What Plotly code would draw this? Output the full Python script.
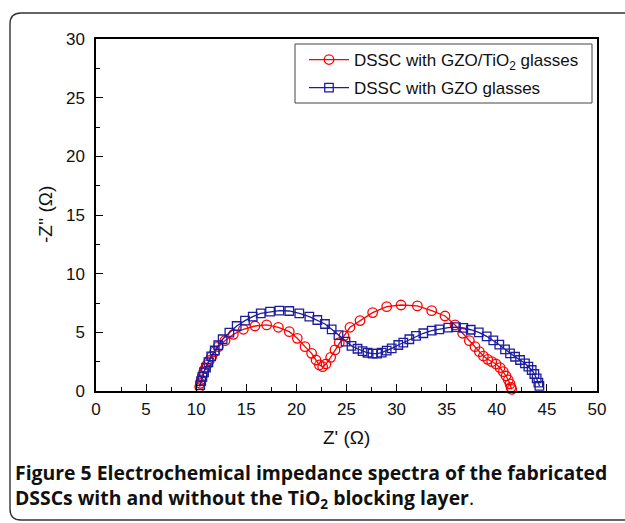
import plotly.graph_objects as go

# ---- data ----
red_name = "DSSC with GZO/TiO<sub>2</sub> glasses"
red_x = [10.35, 10.42, 10.5, 10.6, 10.72, 10.88, 11.08, 11.3, 11.55, 11.85, 12.21, 12.87, 13.71,
         14.71, 15.87, 17.03, 18.20, 19.29, 20.09, 20.86, 21.52, 21.96, 22.29, 22.62, 22.95, 23.42,
         23.85, 24.28, 24.75, 25.35, 26.35, 27.61, 29.01, 30.44, 32.07, 33.50, 34.83, 35.83, 36.59,
         37.26, 37.82, 38.26, 38.66, 39.09, 39.49, 39.92, 40.32, 40.65, 40.92, 41.15, 41.32, 41.42, 41.49]
red_y = [0.35, 0.65, 0.95, 1.25, 1.55, 1.9, 2.25, 2.6, 2.95, 3.35, 3.78, 4.29, 4.83,
         5.26, 5.54, 5.63, 5.43, 5.06, 4.49, 3.78, 3.21, 2.64, 2.22, 2.07, 2.30, 2.87,
         3.50, 4.12, 4.70, 5.43, 6.00, 6.68, 7.19, 7.33, 7.25, 6.85, 6.39, 5.63, 4.92,
         4.29, 3.78, 3.35, 2.98, 2.70, 2.50, 2.30, 1.99, 1.65, 1.28, 0.94, 0.60, 0.31, 0.14]

blue_name = "DSSC with GZO glasses"
blue_x = [10.4, 10.5, 10.62, 10.78, 10.98, 11.22, 11.5, 11.85, 12.2, 12.64, 13.31, 14.04, 14.87,
          15.64, 16.44, 17.37, 18.30, 19.29, 20.29, 21.29, 22.09, 22.85, 23.52, 24.2, 24.9, 25.5,
          26.1, 26.6, 27.1, 27.6, 28.05, 28.51, 29.01, 29.51, 30.17, 30.67, 31.27, 31.94, 32.67,
          33.50, 34.26, 35.16, 35.93, 36.66, 37.40, 38.20, 38.99, 39.65, 40.25, 40.82, 41.32,
          41.82, 42.32, 42.81, 43.15, 43.48, 43.75, 43.98, 44.15, 44.25]
blue_y = [0.5, 0.85, 1.2, 1.6, 2.0, 2.45, 2.95, 3.45, 3.9, 4.41, 4.97, 5.54, 6.00,
          6.34, 6.62, 6.76, 6.85, 6.82, 6.62, 6.34, 6.05, 5.71, 5.26, 4.77, 4.2, 3.85,
          3.6, 3.4, 3.26, 3.18, 3.18, 3.27, 3.44, 3.64, 3.92, 4.12, 4.41, 4.69, 4.92,
          5.14, 5.26, 5.40, 5.45, 5.38, 5.22, 5.00, 4.66, 4.32, 3.95, 3.55, 3.21,
          2.92, 2.64, 2.36, 2.07, 1.79, 1.45, 1.08, 0.71, 0.43]

x_ticks = [0, 5, 10, 15, 20, 25, 30, 35, 40, 45, 50]
y_ticks = [0, 5, 10, 15, 20, 25, 30]
x_title = "Z' (Ω)"
y_title = "-Z'' (Ω)"
caption = ("<b>Figure 5 Electrochemical impedance spectra of the fabricated</b><br>"
           "<b>DSSCs with and without the TiO<sub>2</sub> blocking layer</b>.")

RED = "#ff0000"
BLUE = "#1c1ca0"

W, H = 625, 523
L, R, T, B = 96, 597, 39, 391   # plot area in pixels


def px(xp):
    return (xp - L) / (R - L)


def py(yp):
    return (B - yp) / (B - T)


fig = go.Figure()
fig.add_trace(go.Scatter(
    x=red_x, y=red_y, name=red_name, mode="lines+markers",
    line=dict(color=RED, width=1.3),
    marker=dict(symbol="circle-open", size=9.5, color=RED, line=dict(width=1.3)),
    cliponaxis=False, legend="legend"))
fig.add_trace(go.Scatter(
    x=blue_x, y=blue_y, name=blue_name, mode="lines+markers",
    line=dict(color=BLUE, width=1.3),
    marker=dict(symbol="square-open", size=8.5, color=BLUE, line=dict(width=1.3)),
    cliponaxis=False, legend="legend2"))

axis_font = dict(family="Liberation Sans, Arial, sans-serif", size=17, color="#111")
common = dict(showline=True, linecolor="black", linewidth=1.5, mirror=True,
              ticks="inside", ticklen=7, tickwidth=1.3, tickcolor="black",
              showgrid=False, zeroline=False, tickfont=axis_font,
              minor=dict(ticks="inside", ticklen=4, tickwidth=1.2, tickcolor="black", showgrid=False))

fig.update_xaxes(range=[0, 50], tickvals=x_ticks, minor_dtick=2.5, ticklabelstandoff=2, **common)
fig.update_yaxes(range=[0, 30], tickvals=y_ticks, minor_dtick=2.5, ticklabelstandoff=6, **common)

leg_common = dict(bgcolor="rgba(0,0,0,0)", borderwidth=0,
                  font=dict(family="Liberation Sans, Arial, sans-serif", size=17, color="#111"),
                  xanchor="left", yanchor="middle", itemwidth=40)

shapes = []
# legend box
shapes.append(dict(type="rect", xref="paper", yref="paper",
                   x0=px(295), x1=px(592), y0=py(103), y1=py(44),
                   line=dict(color="#444", width=1), fillcolor="rgba(0,0,0,0)", layer="below"))
# outer rounded frame
r = 11
x0p, x1p, y0p, y1p = 10, 645, 13, 520
path = (f"M {px(x0p + r)},{py(y0p)} L {px(x1p - r)},{py(y0p)} "
        f"Q {px(x1p)},{py(y0p)} {px(x1p)},{py(y0p + r)} L {px(x1p)},{py(y1p - r)} "
        f"Q {px(x1p)},{py(y1p)} {px(x1p - r)},{py(y1p)} L {px(x0p + r)},{py(y1p)} "
        f"Q {px(x0p)},{py(y1p)} {px(x0p)},{py(y1p - r)} L {px(x0p)},{py(y0p + r)} "
        f"Q {px(x0p)},{py(y0p)} {px(x0p + r)},{py(y0p)} Z")
shapes.append(dict(type="path", xref="paper", yref="paper", path=path,
                   line=dict(color="#333", width=1.4), fillcolor="rgba(0,0,0,0)"))

cap_font = dict(family="Open Sans, Noto Sans, sans-serif", size=19.4, color="#111")
annotations = [
    dict(text=y_title, xref="paper", yref="paper", x=px(45), y=py(215), showarrow=False,
         textangle=-90, font=dict(family="Liberation Sans, Arial, sans-serif", size=19, color="#111"),
         xanchor="center", yanchor="middle"),
    dict(text=x_title, xref="paper", yref="paper", x=px(346), y=py(437), showarrow=False,
         font=dict(family="Liberation Sans, Arial, sans-serif", size=19, color="#111"),
         xanchor="center", yanchor="middle"),
    dict(text=caption, xref="paper", yref="paper", x=px(13), y=py(486), showarrow=False,
         font=cap_font, xanchor="left", yanchor="middle", align="left"),
]

fig.update_layout(
    width=W, height=H,
    margin=dict(l=L, r=W - R, t=T, b=H - B, autoexpand=False),
    paper_bgcolor="white", plot_bgcolor="white",
    showlegend=True,
    legend=dict(x=px(304), y=py(60), **leg_common),
    legend2=dict(x=px(304), y=py(88), **leg_common),
    shapes=shapes, annotations=annotations,
)

fig.write_html("out.html")
